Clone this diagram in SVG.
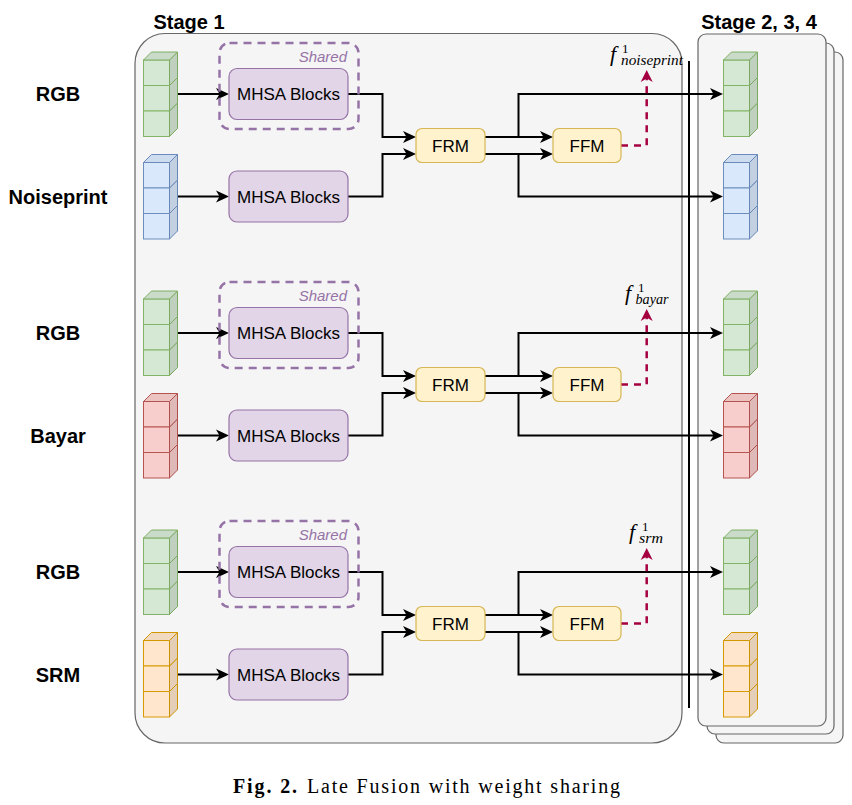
<svg xmlns="http://www.w3.org/2000/svg" xmlns:xlink="http://www.w3.org/1999/xlink" width="852" height="805" viewBox="0 0 852 805">
<style>
.stage{fill:#f5f5f5;stroke:#666666;stroke-width:1.2}
.lbl{font-family:"Liberation Sans",Arial,sans-serif;font-weight:bold;font-size:20px;fill:#000;text-anchor:middle}
.mhsa{fill:#e1d5e7;stroke:#9673a6;stroke-width:1.2}
.y{fill:#fff2cc;stroke:#d6b656;stroke-width:1.2}
.bt{font-family:"Liberation Sans",Arial,sans-serif;font-size:17px;fill:#000;text-anchor:middle}
.shared{fill:none;stroke:#9673a6;stroke-width:2.5;stroke-dasharray:8 6}
.sh{font-family:"Liberation Sans",Arial,sans-serif;font-style:italic;font-size:15px;fill:#9673a6;text-anchor:end}
.green{fill:#d5e8d4;stroke:#82b366;stroke-width:1}
.blue{fill:#dae8fc;stroke:#6c8ebf;stroke-width:1}
.red{fill:#f8cecc;stroke:#b85450;stroke-width:1}
.orange{fill:#ffe6cc;stroke:#d79b00;stroke-width:1}
.c{fill:none;stroke:#000;stroke-width:2;marker-end:url(#ah)}
.cf{fill:none;stroke:#000;stroke-width:2}
.d{fill:none;stroke:#a50040;stroke-width:2.5;stroke-dasharray:7 6;marker-end:url(#ahr)}
.m{font-family:"Liberation Serif","Times New Roman",serif;font-style:italic;fill:#000}
.sup{font-style:normal;font-size:13px}
.sub{font-size:14px}
.cap{font-family:"Liberation Serif","Times New Roman",serif;font-size:20px;fill:#000}
</style>
<defs>
<marker id="ah" markerWidth="14" markerHeight="13" refX="7" refY="6.5" orient="auto" markerUnits="userSpaceOnUse">
<path d="M0,0.5 L13,6.5 L0,12.5 L3.5,6.5 z" fill="#000"/>
</marker>
<marker id="ahr" markerWidth="14" markerHeight="13" refX="6" refY="6.5" orient="auto" markerUnits="userSpaceOnUse">
<path d="M0,0.5 L12,6.5 L0,12.5 L3.5,6.5 z" fill="#a50040"/>
</marker>
<g id="cube3">
<rect x="0" y="0" width="26" height="25.5"/>
<rect x="0" y="25.5" width="26" height="25.5"/>
<rect x="0" y="51" width="26" height="25.5"/>
<path d="M26,51 l8,-8 v25.5 l-8,8 z"/>
<path d="M26,51 l8,-8 v25.5 l-8,8 z" fill="#000" fill-opacity="0.1" stroke="none"/>
<path d="M26,25.5 l8,-8 v25.5 l-8,8 z"/>
<path d="M26,25.5 l8,-8 v25.5 l-8,8 z" fill="#000" fill-opacity="0.1" stroke="none"/>
<path d="M26,0 l8,-8 v25.5 l-8,8 z"/>
<path d="M26,0 l8,-8 v25.5 l-8,8 z" fill="#000" fill-opacity="0.1" stroke="none"/>
<path d="M0,0 l8,-8 h26 l-8,8 z"/>
<path d="M0,0 l8,-8 h26 l-8,8 z" fill="#000" fill-opacity="0.05" stroke="none"/>
</g>
</defs>
<rect width="852" height="805" fill="#ffffff"/>

<g id="stage1">
<rect class="stage" x="135" y="33.5" width="547" height="709.5" rx="30"/>
<text class="lbl" x="189" y="28.5">Stage 1</text>
</g>
<g id="stage234">
<rect class="stage" x="716" y="52" width="127" height="691" rx="8"/>
<rect class="stage" x="707" y="43" width="127" height="691" rx="8"/>
<rect class="stage" x="698" y="34" width="128" height="692" rx="8"/>
<text class="lbl" x="759" y="28.5">Stage 2, 3, 4</text>
</g>

<g id="connectors">
<path class="cf" d="M689,61 V708"/>
<!-- group 1 -->
<path class="c" d="M178,94 H223"/>
<path class="c" d="M178,196.5 H223"/>
<path class="c" d="M348,94 H382.5 V137 H410"/>
<path class="c" d="M348,196.5 H382.5 V154 H410"/>
<path class="c" d="M485,137 H547"/>
<path class="c" d="M485,154 H547"/>
<path class="c" d="M485,137 H518.5 V94 H717"/>
<path class="c" d="M485,154 H518.5 V196.5 H717"/>
<path class="d" d="M621,145.5 H646.7 V76"/>
<!-- group 2 -->
<path class="c" d="M178,333 H223"/>
<path class="c" d="M178,435.5 H223"/>
<path class="c" d="M348,333 H382.5 V376 H410"/>
<path class="c" d="M348,435.5 H382.5 V393 H410"/>
<path class="c" d="M485,376 H547"/>
<path class="c" d="M485,393 H547"/>
<path class="c" d="M485,376 H518.5 V333 H717"/>
<path class="c" d="M485,393 H518.5 V435.5 H717"/>
<path class="d" d="M621,384.5 H646.7 V315"/>
<!-- group 3 -->
<path class="c" d="M178,572 H223"/>
<path class="c" d="M178,674.5 H223"/>
<path class="c" d="M348,572 H382.5 V615 H410"/>
<path class="c" d="M348,674.5 H382.5 V632 H410"/>
<path class="c" d="M485,615 H547"/>
<path class="c" d="M485,632 H547"/>
<path class="c" d="M485,615 H518.5 V572 H717"/>
<path class="c" d="M485,632 H518.5 V674.5 H717"/>
<path class="d" d="M621,623.5 H646.7 V554"/>
</g>

<!-- Group 1: RGB + Noiseprint -->
<g id="label-rgb-1"><text class="lbl" x="58" y="101">RGB</text></g>
<g id="label-noiseprint"><text class="lbl" x="58" y="203.5">Noiseprint</text></g>
<g id="cube-in-rgb-1"><use xlink:href="#cube3" href="#cube3" class="green" x="143.5" y="60"/></g>
<g id="cube-in-noiseprint"><use xlink:href="#cube3" href="#cube3" class="blue" x="143.5" y="162.5"/></g>
<g id="shared-1"><rect class="shared" x="219.5" y="43" width="139" height="86" rx="10"/><text class="sh" x="347" y="62">Shared</text></g>
<g id="mhsa-rgb-1"><rect class="mhsa" x="229" y="68.5" width="119" height="51" rx="8"/><text class="bt" x="288.5" y="100">MHSA Blocks</text></g>
<g id="mhsa-noiseprint"><rect class="mhsa" x="229" y="171" width="119" height="51" rx="8"/><text class="bt" x="288.5" y="202.5">MHSA Blocks</text></g>
<g id="frm-1"><rect class="y" x="416" y="128.5" width="69" height="34" rx="6"/><text class="bt" x="450.5" y="151.5">FRM</text></g>
<g id="ffm-1"><rect class="y" x="553" y="128.5" width="68" height="34" rx="6"/><text class="bt" x="587" y="151.5">FFM</text></g>
<g id="feat-noiseprint"><text class="m" font-size="22" x="610" y="61">f<tspan class="sup" x="622" y="53">1</tspan><tspan class="sub" x="621" y="65" textLength="62" lengthAdjust="spacingAndGlyphs">noiseprint</tspan></text></g>
<g id="cube-out-rgb-1"><use xlink:href="#cube3" href="#cube3" class="green" x="723.5" y="60"/></g>
<g id="cube-out-noiseprint"><use xlink:href="#cube3" href="#cube3" class="blue" x="723.5" y="162.5"/></g>

<!-- Group 2: RGB + Bayar -->
<g id="label-rgb-2"><text class="lbl" x="58" y="340">RGB</text></g>
<g id="label-bayar"><text class="lbl" x="58" y="442.5">Bayar</text></g>
<g id="cube-in-rgb-2"><use xlink:href="#cube3" href="#cube3" class="green" x="143.5" y="299"/></g>
<g id="cube-in-bayar"><use xlink:href="#cube3" href="#cube3" class="red" x="143.5" y="401.5"/></g>
<g id="shared-2"><rect class="shared" x="219.5" y="282" width="139" height="86" rx="10"/><text class="sh" x="347" y="301">Shared</text></g>
<g id="mhsa-rgb-2"><rect class="mhsa" x="229" y="307.5" width="119" height="51" rx="8"/><text class="bt" x="288.5" y="339">MHSA Blocks</text></g>
<g id="mhsa-bayar"><rect class="mhsa" x="229" y="410" width="119" height="51" rx="8"/><text class="bt" x="288.5" y="441.5">MHSA Blocks</text></g>
<g id="frm-2"><rect class="y" x="416" y="367.5" width="69" height="34" rx="6"/><text class="bt" x="450.5" y="390.5">FRM</text></g>
<g id="ffm-2"><rect class="y" x="553" y="367.5" width="68" height="34" rx="6"/><text class="bt" x="587" y="390.5">FFM</text></g>
<g id="feat-bayar"><text class="m" font-size="22" x="625" y="300">f<tspan class="sup" x="638" y="292">1</tspan><tspan class="sub" x="635.5" y="304" textLength="33" lengthAdjust="spacingAndGlyphs">bayar</tspan></text></g>
<g id="cube-out-rgb-2"><use xlink:href="#cube3" href="#cube3" class="green" x="723.5" y="299"/></g>
<g id="cube-out-bayar"><use xlink:href="#cube3" href="#cube3" class="red" x="723.5" y="401.5"/></g>

<!-- Group 3: RGB + SRM -->
<g id="label-rgb-3"><text class="lbl" x="58" y="579">RGB</text></g>
<g id="label-srm"><text class="lbl" x="58" y="681.5">SRM</text></g>
<g id="cube-in-rgb-3"><use xlink:href="#cube3" href="#cube3" class="green" x="143.5" y="538"/></g>
<g id="cube-in-srm"><use xlink:href="#cube3" href="#cube3" class="orange" x="143.5" y="640.5"/></g>
<g id="shared-3"><rect class="shared" x="219.5" y="521" width="139" height="86" rx="10"/><text class="sh" x="347" y="540">Shared</text></g>
<g id="mhsa-rgb-3"><rect class="mhsa" x="229" y="546.5" width="119" height="51" rx="8"/><text class="bt" x="288.5" y="578">MHSA Blocks</text></g>
<g id="mhsa-srm"><rect class="mhsa" x="229" y="649" width="119" height="51" rx="8"/><text class="bt" x="288.5" y="680.5">MHSA Blocks</text></g>
<g id="frm-3"><rect class="y" x="416" y="606.5" width="69" height="34" rx="6"/><text class="bt" x="450.5" y="629.5">FRM</text></g>
<g id="ffm-3"><rect class="y" x="553" y="606.5" width="68" height="34" rx="6"/><text class="bt" x="587" y="629.5">FFM</text></g>
<g id="feat-srm"><text class="m" font-size="22" x="629" y="539">f<tspan class="sup" x="642" y="531">1</tspan><tspan class="sub" x="639" y="543" textLength="24" lengthAdjust="spacingAndGlyphs">srm</tspan></text></g>
<g id="cube-out-rgb-3"><use xlink:href="#cube3" href="#cube3" class="green" x="723.5" y="538"/></g>
<g id="cube-out-srm"><use xlink:href="#cube3" href="#cube3" class="orange" x="723.5" y="640.5"/></g>

<g id="caption">
<text class="cap" x="233" y="793" font-weight="bold" textLength="64" lengthAdjust="spacing">Fig. 2.</text>
<text class="cap" x="307" y="793" textLength="313" lengthAdjust="spacing">Late Fusion with weight sharing</text>
</g>
</svg>
